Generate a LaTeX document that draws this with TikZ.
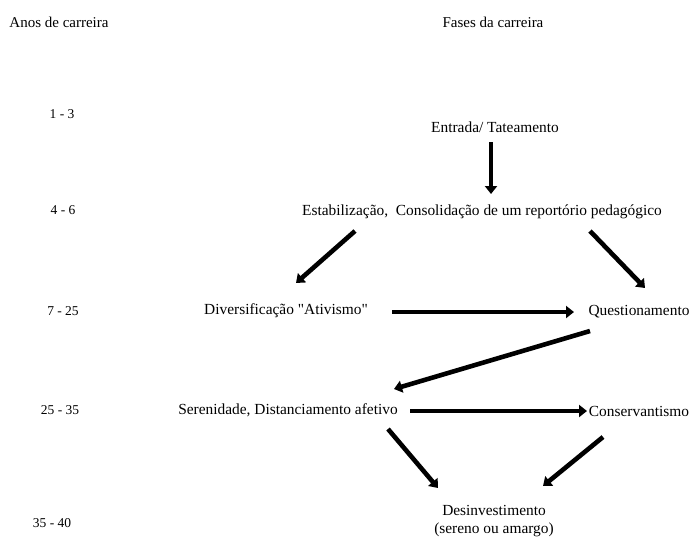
\documentclass[tikz,border=0pt]{standalone}
\usepackage{fontspec}
\setmainfont{Liberation Serif}
\usetikzlibrary{arrows.meta}
\begin{document}
\begin{tikzpicture}[x=1pt,y=-1pt,
  header/.style={inner sep=0pt,font=\fontsize{15}{17}\selectfont},
  years/.style={inner sep=0pt,font=\fontsize{13.5}{15}\selectfont},
  phase/.style={inner sep=0pt,font=\fontsize{15.4}{18}\selectfont,align=center},
  flow/.style={line width=4.6pt,-{Triangle[width=12pt,length=8pt]}}]
\useasboundingbox (0,0) rectangle (692,539);
% column headers
\node[header] (hanos) at (59,22) {Anos de carreira};
\node[header] (hfases) at (493,22) {Fases da carreira};
% years
\node[years] (y1) at (62,114) {1 - 3};
\node[years] (y2) at (63,210) {4 - 6};
\node[years] (y3) at (63,311) {7 - 25};
\node[years] (y4) at (60,410) {25 - 35};
\node[years] (y5) at (52,523) {35 - 40};
% phases
\node[phase] (entrada) at (495,127) {Entrada/ Tateamento};
\node[phase] (estab) at (482,212) {Estabilização,\ \ Consolidação de um reportório pedagógico};
\node[phase] (divers) at (286,311) {Diversificação \textquotedbl Ativismo\textquotedbl};
\node[phase] (quest) at (639,312) {Questionamento};
\node[phase] (seren) at (288,410) {Serenidade, Distanciamento afetivo};
\node[phase] (conserv) at (639,411) {Conservantismo};
\node[phase] (desinv) at (494,521) {Desinvestimento\\(sereno ou amargo)};
% arrow ends
\coordinate (a1s) at (491,142); \coordinate (a1e) at (491,194);
\coordinate (a2s) at (355,231); \coordinate (a2e) at (296,283);
\coordinate (a3s) at (590,231); \coordinate (a3e) at (645,288);
\coordinate (a4s) at (392,312); \coordinate (a4e) at (574,312);
\coordinate (a5s) at (590,331); \coordinate (a5e) at (394,389);
\coordinate (a6s) at (410,411); \coordinate (a6e) at (587,411);
\coordinate (a7s) at (388,429); \coordinate (a7e) at (438,488);
\coordinate (a8s) at (603,437); \coordinate (a8e) at (543,486);
% arrows
\draw[flow] (a1s) -- (a1e);
\draw[flow] (a2s) -- (a2e);
\draw[flow] (a3s) -- (a3e);
\draw[flow] (a4s) -- (a4e);
\draw[flow] (a5s) -- (a5e);
\draw[flow] (a6s) -- (a6e);
\draw[flow] (a7s) -- (a7e);
\draw[flow] (a8s) -- (a8e);
\end{tikzpicture}
\end{document}
